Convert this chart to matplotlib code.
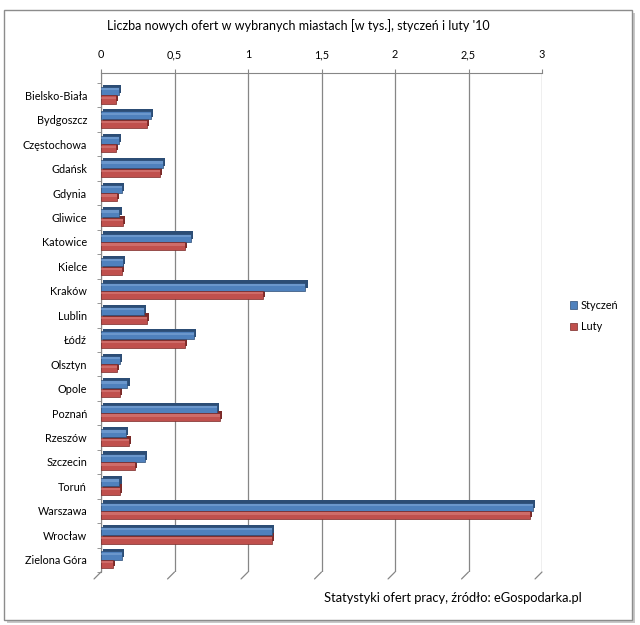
import matplotlib
matplotlib.use("Agg")
import matplotlib.pyplot as plt
import matplotlib.transforms as mtrans
from matplotlib.patches import Rectangle
import numpy as np

cities = ["Bielsko-Biała", "Bydgoszcz", "Częstochowa", "Gdańsk", "Gdynia", "Gliwice",
          "Katowice", "Kielce", "Kraków", "Lublin", "Łódź", "Olsztyn", "Opole", "Poznań",
          "Rzeszów", "Szczecin", "Toruń", "Warszawa", "Wrocław", "Zielona Góra"]
styczen = [0.12, 0.34, 0.12, 0.42, 0.14, 0.125, 0.61, 0.15, 1.39, 0.29,
           0.63, 0.13, 0.18, 0.79, 0.17, 0.30, 0.125, 2.94, 1.16, 0.14]
luty = [0.10, 0.31, 0.10, 0.40, 0.11, 0.15, 0.57, 0.14, 1.10, 0.31,
        0.57, 0.11, 0.13, 0.81, 0.19, 0.23, 0.13, 2.92, 1.16, 0.08]
xticks = [0, 0.5, 1, 1.5, 2, 2.5, 3]
xtick_labels = ["0", "0,5", "1", "1,5", "2", "2,5", "3"]
series_names = ["Styczeń", "Luty"]
title = "Liczba nowych ofert w wybranych miastach [w tys.], styczeń i luty '10"
source = "Statystyki ofert pracy, źródło: eGospodarka.pl"

plt.rcParams['font.family'] = ['Lato', 'DejaVu Sans']

fig = plt.figure(figsize=(6.4, 6.25), dpi=100)
fig.patch.set_facecolor("white")

# outer frame with shadow
fig.patches.append(Rectangle((7/640, 1 - 623/625), 628/640, 610/625, transform=fig.transFigure,
                             facecolor="#c8c8c8", edgecolor="none", zorder=-2))
fig.patches.append(Rectangle((4/640, 1 - 620/625), 628/640, 610/625, transform=fig.transFigure,
                             facecolor="white", edgecolor="#8c8c8c", linewidth=1.0, zorder=-1))

ax = fig.add_axes([101/640, 1 - 572/625, 441/640, 499/625])
ax.set_zorder(2)
ax.set_facecolor("none")

y = np.arange(len(cities))
h = 0.33
colors = {"Styczeń": ("#4F81BD", "#2c4d75", "#8fb2e0"), "Luty": ("#C0504D", "#7a2a28", "#e08f8c")}

shift = mtrans.ScaledTranslation(1.6/72, 1.6/72, fig.dpi_scale_trans)
for vals, name, off in [(styczen, "Styczeń", -h/2 - 0.01), (luty, "Luty", h/2 + 0.01)]:
    main, dark, light = colors[name]
    ax.barh(y + off, vals, height=h, color=dark, edgecolor="none",
            transform=ax.transData + shift, zorder=2)
    ax.barh(y + off, vals, height=h, color=main, edgecolor=dark, linewidth=0.5,
            zorder=3, label=name)
    ax.barh(y + off - h*0.22, vals, height=h*0.28, color=light, alpha=0.45,
            edgecolor="none", zorder=4)

ax.set_xlim(0, 3)
ax.set_ylim(len(cities) - 0.5, -0.91)
ax.set_yticks(y)
ax.set_yticklabels(cities, fontsize=7.8)
ax.set_yticks(np.arange(-0.5, len(cities), 1), minor=True)
ax.tick_params(axis="y", which="major", length=0, pad=10)
ax.tick_params(axis="y", which="minor", length=3, color="#868686", direction="out")

ax.xaxis.tick_top()
ax.set_xticks(xticks)
ax.set_xticklabels(xtick_labels, fontsize=7.8)
ax.tick_params(axis="x", length=3, color="#868686", direction="out", pad=6)
ax.grid(axis="x", color="#868686", linewidth=0.9, zorder=0)
ax.set_axisbelow(True)
for s in ["right", "bottom"]:
    ax.spines[s].set_visible(False)
ax.spines["top"].set_color("#868686")
ax.spines["left"].set_color("#868686")

# slanted floor ticks at bottom of gridlines
for xt in xticks:
    tr = ax.get_xaxis_transform()
    ax.annotate("", xy=(xt, 0), xycoords=tr, xytext=(-5, -5), textcoords="offset points",
                arrowprops=dict(arrowstyle="-", color="#868686", lw=0.9,
                                shrinkA=0, shrinkB=0), annotation_clip=False)

fig.text(298/640, 1 - 26/625, title, ha="center", va="center", fontsize=9.0)
fig.text(582/640, 1 - 598/625, source, ha="right", va="center", fontsize=9.3)

handles, labels = ax.get_legend_handles_labels()
leg = fig.legend(handles, labels, loc="center left", bbox_to_anchor=(560/640, 1 - 316/625),
                 frameon=False, fontsize=7.8, handlelength=0.7, handleheight=0.7,
                 handletextpad=0.3, labelspacing=1.0)

fig.savefig("out.png", dpi=100, facecolor="white")
